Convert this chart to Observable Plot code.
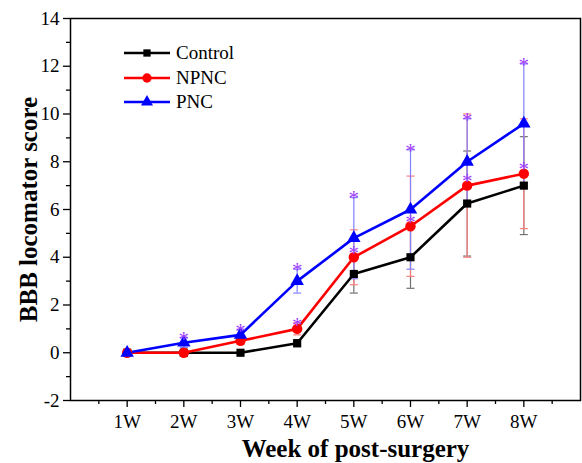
<!DOCTYPE html>
<html>
<head>
<meta charset="utf-8">
<script src="https://cdn.jsdelivr.net/npm/d3@7"></script>
<script src="https://cdn.jsdelivr.net/npm/@observablehq/plot@0.6"></script>
<style>
  html, body { margin: 0; padding: 0; background: #fff; }
  #wrap { position: relative; width: 582px; height: 463px; }
  #legend { position: absolute; left: 124px; top: 41px; font-family: 'Liberation Serif', serif; font-size: 19px; color: #000; }
  #legend .row { display: flex; align-items: center; height: 24.5px; }
  #legend svg { margin-right: 4px; }
</style>
</head>
<body>
<div id="wrap"><div id="legend"></div></div>
<script>
const weeks = [1, 2, 3, 4, 5, 6, 7, 8];
const weekLabels = ["1W", "2W", "3W", "4W", "5W", "6W", "7W", "8W"];
const seriesNames = ["Control", "NPNC", "PNC"];
const controlMean = [0, 0, 0, 0.4, 3.3, 4.0, 6.25, 7.0];
const controlErr  = [0, 0, 0, 0.15, 0.8, 1.3, 2.2, 2.05];
const npncMean    = [0, 0, 0.5, 1.0, 4.0, 5.3, 7.0, 7.5];
const npncErr     = [0, 0, 0.15, 0.25, 1.15, 2.1, 3.0, 2.3];
const pncMean     = [0, 0.42, 0.75, 3.0, 4.8, 6.0, 8.0, 9.6];
const pncErr      = [0, 0.2, 0.2, 0.5, 1.7, 2.5, 1.8, 2.5];
const npncSig     = [false, false, false, true, true, true, true, true];
const pncSig      = [false, true, true, true, true, true, true, true];
const yTicks = [-2, 0, 2, 4, 6, 8, 10, 12, 14];
const yMinorTicks = [-1, 1, 3, 5, 7, 9, 11, 13];
const xMinorTicks = [0.5, 1.5, 2.5, 3.5, 4.5, 5.5, 6.5, 7.5, 8.5];

const colors = {Control: "#000000", NPNC: "#ff0000", PNC: "#0000ff"};
const errColors = {Control: "#707070", NPNC: "#ff7f7f", PNC: "#8080ff"};
const symbols = {Control: "square", NPNC: "circle", PNC: "triangle"};
const radii = {Control: 4.6, NPNC: 5.2, PNC: 5};

const means = {Control: controlMean, NPNC: npncMean, PNC: pncMean};
const errs = {Control: controlErr, NPNC: npncErr, PNC: pncErr};
const rows = [];
for (const s of seriesNames) {
  weeks.forEach((w, i) => rows.push({series: s, week: w, mean: means[s][i], err: errs[s][i]}));
}
const errRows = rows.filter(d => d.err > 0);
const capRows = errRows.flatMap(d => [{...d, v: d.mean + d.err}, {...d, v: d.mean - d.err}]);
const pncStars = weeks.map((w, i) => ({week: w, y: pncMean[i] + pncErr[i], sig: pncSig[i]})).filter(d => d.sig);
const npncStars = weeks.map((w, i) => ({week: w, y: npncMean[i], sig: npncSig[i]})).filter(d => d.sig);

const capSymbol = {draw(ctx, size) { const w = Math.sqrt(size / Math.PI); ctx.moveTo(-w, 0); ctx.lineTo(w, 0); }};
const font = "'Liberation Serif', serif";
const starColor = "#a040ff";

const marks = [];
for (const s of seriesNames) {
  marks.push(Plot.ruleX(errRows.filter(d => d.series === s), {x: "week", y1: d => d.mean - d.err, y2: d => d.mean + d.err, stroke: errColors[s], strokeWidth: 1.2}));
  marks.push(Plot.dot(capRows.filter(d => d.series === s), {x: "week", y: "v", symbol: capSymbol, r: 4, stroke: errColors[s], strokeWidth: 1.2, fill: "none"}));
}
for (const s of seriesNames) {
  marks.push(Plot.line(rows.filter(d => d.series === s), {x: "week", y: "mean", stroke: colors[s], strokeWidth: 2.6}));
}
for (const s of seriesNames) {
  marks.push(Plot.dot(rows.filter(d => d.series === s), {x: "week", y: "mean", symbol: symbols[s], r: radii[s], fill: colors[s], stroke: "none"}));
}
marks.push(Plot.text(pncStars, {x: "week", y: "y", text: () => "*", fill: starColor, fontSize: 21, lineAnchor: "middle", dy: 1, fontFamily: font}));
marks.push(Plot.text(npncStars, {x: "week", y: "y", text: () => "*", fill: starColor, fontSize: 21, lineAnchor: "middle", dy: -4, fontFamily: font}));

marks.push(Plot.axisY(yTicks, {tickSize: 7, tickPadding: 4, fontSize: 19, fontFamily: font, tickFormat: d => String(d), strokeWidth: 1.3, label: null}));
marks.push(Plot.axisY(yMinorTicks, {tickSize: 4, text: null, strokeWidth: 1.3, label: null}));
marks.push(Plot.axisX(weeks, {tickSize: 7, tickPadding: 7, fontSize: 19, fontFamily: font, tickFormat: d => weekLabels[weeks.indexOf(d)], strokeWidth: 1.3, label: null}));
marks.push(Plot.axisX(xMinorTicks, {tickSize: 4, text: null, strokeWidth: 1.3, label: null}));
marks.push(Plot.frame({stroke: "#000", strokeWidth: 1.5}));
marks.push(Plot.text(["Week of post-surgery"], {frameAnchor: "bottom", dy: 56, dx: 30, text: d => d, fontSize: 25, fontWeight: "bold", fontFamily: font, fill: "#000"}));
marks.push(Plot.text(["BBB locomator score"], {frameAnchor: "left", textAnchor: "middle", dx: -42, rotate: -90, text: d => d, fontSize: 25, fontWeight: "bold", fontFamily: font, fill: "#000"}));

const chart = Plot.plot({
  width: 582,
  height: 463,
  marginLeft: 70,
  marginRight: 2,
  marginTop: 18,
  marginBottom: 63,
  style: {fontFamily: font, background: "#fff", color: "#000", overflow: "visible"},
  x: {domain: [0, 9]},
  y: {domain: [-2, 14]},
  marks
});
document.getElementById("wrap").prepend(chart);

// Legend
const legend = d3.select("#legend");
for (const s of seriesNames) {
  const row = legend.append("div").attr("class", "row");
  const svg = row.append("svg").attr("width", 48).attr("height", 14);
  svg.append("line").attr("x1", 0).attr("x2", 46).attr("y1", 7).attr("y2", 7).attr("stroke", colors[s]).attr("stroke-width", 2.6);
  const sym = d3.symbol().type(s === "Control" ? d3.symbolSquare : s === "NPNC" ? d3.symbolCircle : d3.symbolTriangle).size(Math.PI * radii[s] * radii[s] * 0.8);
  svg.append("path").attr("d", sym()).attr("transform", "translate(23,7)").attr("fill", colors[s]);
  row.append("span").text(s);
}
</script>
</body>
</html>
